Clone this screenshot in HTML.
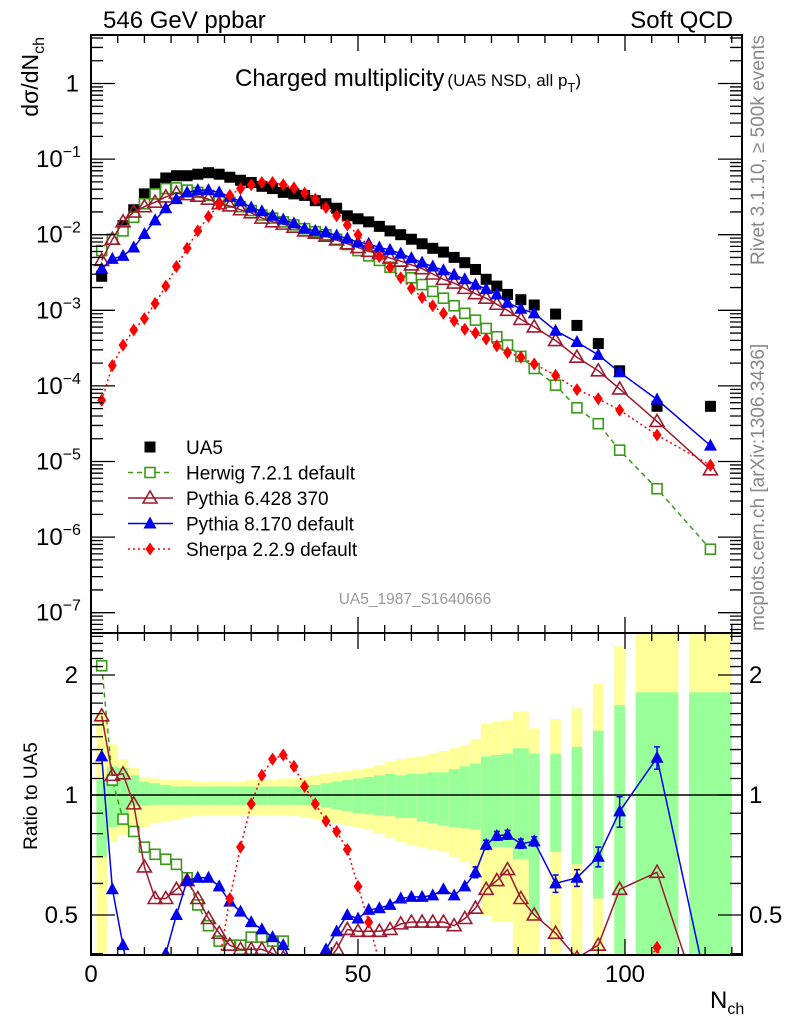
<!DOCTYPE html>
<html><head><meta charset="utf-8"><style>
html,body{margin:0;padding:0;background:#fff;overflow:hidden;width:786px;height:1024px}
svg{display:block;font-family:"Liberation Sans",Arial,sans-serif}
</style></head><body>
<svg id="chart" width="786" height="1024" viewBox="0 0 786 1024" xmlns="http://www.w3.org/2000/svg">
<defs>
<clipPath id="clipU"><rect x="91" y="35" width="651" height="598"/></clipPath>
<clipPath id="clipL"><rect x="91" y="633" width="651" height="322"/></clipPath>
</defs>
<g id="bands" clip-path="url(#clipL)"></g>
<line x1="91" y1="795" x2="742" y2="795" stroke="#000" stroke-width="1.5"/>
<g id="upper" clip-path="url(#clipU)"></g>
<g id="lower" clip-path="url(#clipL)"></g>
<g id="axes"></g>
<rect x="91" y="35" width="651" height="598" fill="none" stroke="#000" stroke-width="2"/>
<rect x="91" y="633" width="651" height="322" fill="none" stroke="#000" stroke-width="2"/>
<text x="103" y="28" font-size="24">546 GeV ppbar</text>
<text x="733" y="28" font-size="24" text-anchor="end">Soft QCD</text>
<text x="235" y="86" font-size="24">Charged multiplicity<tspan font-size="17" dx="3">(UA5 NSD, all p</tspan><tspan font-size="13" dy="6">T</tspan><tspan font-size="17" dy="-6">)</tspan></text>
<text transform="translate(38,37) rotate(-90)" font-size="23" text-anchor="end">dσ/dN<tspan font-size="16" dy="6">ch</tspan></text>
<text transform="translate(37,796) rotate(-90)" font-size="19" text-anchor="middle">Ratio to UA5</text>
<text x="710" y="1008" font-size="24">N<tspan font-size="16" dy="6">ch</tspan></text>
<text transform="translate(764,265) rotate(-90)" font-size="19" fill="#888">Rivet 3.1.10, ≥ 500k events</text>
<text transform="translate(764,631) rotate(-90)" font-size="19" fill="#888">mcplots.cern.ch [arXiv:1306.3436]</text>
<text x="415" y="604" font-size="15.5" fill="#999" text-anchor="middle">UA5_1987_S1640666</text>
<g id="legend"></g>
</svg>
<script>
const nch = [2,4,6,8,10,12,14,16,18,20,22,24,26,28,30,32,34,36,38,40,42,44,46,48,50,52,54,56,58,60,62,64,66,68,70,72,74,76,78,80.5,83,87,91,95,99,106,116];
const binHalf = [1,1,1,1,1,1,1,1,1,1,1,1,1,1,1,1,1,1,1,1,1,1,1,1,1,1,1,1,1,1,1,1,1,1,1,1,1,1,1,1.5,1,1,1,1,1,4,4];
const ua5Log = [-2.55,-2.06,-1.88,-1.67,-1.46,-1.33,-1.25,-1.22,-1.22,-1.20,-1.18,-1.20,-1.24,-1.28,-1.31,-1.36,-1.39,-1.44,-1.46,-1.48,-1.55,-1.59,-1.65,-1.75,-1.79,-1.83,-1.89,-1.95,-2.00,-2.06,-2.12,-2.18,-2.23,-2.30,-2.37,-2.46,-2.59,-2.68,-2.79,-2.86,-2.93,-3.05,-3.20,-3.44,-3.80,-4.27,-4.27];
const herwigLog = [-2.21,-2.06,-1.95,-1.77,-1.59,-1.46,-1.39,-1.38,-1.41,-1.44,-1.48,-1.53,-1.57,-1.63,-1.68,-1.74,-1.78,-1.83,-1.87,-1.92,-1.96,-2.00,-2.06,-2.13,-2.21,-2.28,-2.34,-2.43,-2.48,-2.57,-2.66,-2.75,-2.84,-2.94,-3.04,-3.13,-3.24,-3.35,-3.46,-3.61,-3.77,-3.99,-4.29,-4.50,-4.85,-5.36,-6.16];
const pythia6Log = [-2.34,-2.06,-1.83,-1.70,-1.63,-1.57,-1.50,-1.45,-1.47,-1.49,-1.53,-1.59,-1.62,-1.67,-1.71,-1.78,-1.83,-1.86,-1.90,-1.95,-1.98,-2.02,-2.07,-2.12,-2.17,-2.22,-2.25,-2.31,-2.35,-2.40,-2.45,-2.52,-2.59,-2.64,-2.71,-2.78,-2.84,-2.92,-3.00,-3.12,-3.22,-3.40,-3.62,-3.80,-4.04,-4.47,-5.11];
const pythia8Log = [-2.45,-2.32,-2.28,-2.17,-1.99,-1.81,-1.65,-1.53,-1.44,-1.41,-1.41,-1.44,-1.50,-1.56,-1.64,-1.69,-1.75,-1.80,-1.85,-1.92,-1.95,-1.97,-2.01,-2.05,-2.10,-2.12,-2.17,-2.20,-2.25,-2.31,-2.37,-2.42,-2.47,-2.53,-2.59,-2.66,-2.72,-2.79,-2.90,-2.98,-3.04,-3.27,-3.42,-3.59,-3.82,-4.18,-4.79];
const sherpaLog = [-4.19,-3.73,-3.46,-3.26,-3.11,-2.91,-2.68,-2.42,-2.18,-1.95,-1.76,-1.60,-1.48,-1.39,-1.34,-1.31,-1.31,-1.34,-1.38,-1.45,-1.53,-1.64,-1.75,-1.87,-2.00,-2.15,-2.29,-2.43,-2.57,-2.71,-2.83,-2.94,-3.04,-3.14,-3.25,-3.30,-3.38,-3.47,-3.56,-3.62,-3.71,-3.86,-4.05,-4.17,-4.32,-4.65,-5.05];
const herwigRatio = [2.11,1.09,0.87,0.81,0.74,0.71,0.69,0.67,0.62,0.53,0.47,0.43,0.42,0.42,0.44,0.44,0.43,0.43,0.33,0.32,0.33,0.33,0.32,0.31,0.3,0.3,0.3,0.3,0.3,0.3,0.3,0.3,0.3,0.3,0.3,0.3,0.3,0.3,0.3,0.3,0.3,0.3,0.3,0.3,0.3,0.3,0.2];
const pythia6Ratio = [1.58,1.12,1.13,0.95,0.66,0.55,0.55,0.58,0.61,0.55,0.49,0.45,0.42,0.41,0.41,0.41,0.40,0.39,0.38,0.37,0.37,0.38,0.41,0.46,0.455,0.455,0.455,0.46,0.475,0.48,0.48,0.48,0.48,0.47,0.49,0.52,0.58,0.61,0.65,0.55,0.50,0.45,0.39,0.42,0.58,0.64,0.25];
const pythia8Ratio = [1.25,0.58,0.42,0.30,0.30,0.33,0.40,0.50,0.61,0.62,0.62,0.59,0.54,0.51,0.48,0.46,0.44,0.42,0.37,0.33,0.33,0.41,0.455,0.50,0.49,0.515,0.52,0.53,0.55,0.555,0.555,0.56,0.58,0.56,0.59,0.64,0.75,0.79,0.795,0.755,0.765,0.60,0.62,0.70,0.91,1.24,0.30];
const pythia8RatioErr = [0,0,0,0,0,0,0,0,0,0,0,0,0,0,0,0,0,0,0,0,0,0,0,0,0,0,0,0,0,0,0,0,0,0,0,0.02,0.02,0.02,0.02,0.02,0.02,0.03,0.03,0.04,0.08,0.08,0];
const sherpaRatio = [0.1,0.2,0.22,0.25,0.25,0.25,0.25,0.25,0.25,0.25,0.26,0.38,0.55,0.74,0.95,1.12,1.23,1.26,1.18,1.05,0.95,0.86,0.81,0.73,0.59,0.48,0.38,0.33,0.3,0.3,0.3,0.3,0.3,0.3,0.3,0.3,0.3,0.3,0.3,0.3,0.3,0.3,0.3,0.3,0.30,0.415,0.17];
const yellowHi = [1.61,1.34,1.23,1.17,1.11,1.10,1.09,1.09,1.09,1.08,1.08,1.08,1.08,1.08,1.09,1.09,1.09,1.10,1.10,1.11,1.12,1.13,1.14,1.15,1.16,1.17,1.19,1.21,1.23,1.24,1.25,1.27,1.29,1.31,1.33,1.38,1.51,1.53,1.54,1.62,1.47,1.55,1.65,1.90,2.36,3,3];
const yellowLo = [0.38,0.765,0.795,0.82,0.83,0.85,0.86,0.87,0.88,0.885,0.89,0.89,0.89,0.89,0.89,0.89,0.89,0.89,0.885,0.88,0.87,0.86,0.85,0.84,0.83,0.82,0.80,0.78,0.765,0.75,0.74,0.73,0.72,0.70,0.68,0.65,0.50,0.48,0.48,0.3,0.3,0.3,0.3,0.3,0.3,0.3,0.3];
const greenHi = [1.09,1.18,1.17,1.12,1.08,1.07,1.06,1.05,1.05,1.05,1.05,1.05,1.05,1.05,1.05,1.05,1.05,1.05,1.05,1.05,1.06,1.07,1.08,1.09,1.10,1.11,1.12,1.13,1.12,1.13,1.13,1.14,1.14,1.16,1.18,1.20,1.25,1.26,1.27,1.31,1.27,1.27,1.32,1.45,1.68,1.81,1.81];
const greenLo = [0.70,0.83,0.90,0.94,0.94,0.945,0.945,0.945,0.945,0.945,0.945,0.945,0.945,0.945,0.945,0.945,0.945,0.945,0.945,0.945,0.94,0.93,0.92,0.91,0.90,0.895,0.89,0.885,0.875,0.875,0.86,0.85,0.84,0.83,0.825,0.82,0.74,0.74,0.74,0.69,0.5,0.72,0.67,0.55,0.3,0.3,0.3];
const xTicks = [0,50,100];
const yDecades = [0,-1,-2,-3,-4,-5,-6,-7];
const ratioTicks = [0.5,1,2];

const NS='http://www.w3.org/2000/svg';
function xS(n){return 91+n*5.34;}
function yU(lg){return 83.5-75.6*lg;}
function yL(r){return 795-120*Math.log2(r);}
function mk(tag,attrs,parent){const e=document.createElementNS(NS,tag);for(const k in attrs)e.setAttribute(k,attrs[k]);parent.appendChild(e);return e;}
const bands=document.getElementById('bands'),upper=document.getElementById('upper'),lower=document.getElementById('lower'),axes=document.getElementById('axes'),legend=document.getElementById('legend');

for(let i=0;i<nch.length;i++){
  const x0=xS(nch[i]-binHalf[i]),x1=xS(nch[i]+binHalf[i]);
  const y=mk('rect',{x:x0,y:yL(yellowHi[i]),width:x1-x0,height:yL(yellowLo[i])-yL(yellowHi[i]),fill:'#ffff99'},bands);
  
  
  const g=mk('rect',{x:x0,y:yL(greenHi[i]),width:x1-x0,height:yL(greenLo[i])-yL(greenHi[i]),fill:'#99ff99'},bands);
  
  
}

function marker(type,x,y,color,parent,s){
  s=s||1;let e;
  if(type==='sq') e=mk('rect',{x:x-5.5*s,y:y-5.5*s,width:11*s,height:11*s,fill:color},parent);
  else if(type==='osq') e=mk('rect',{x:x-5*s,y:y-5*s,width:10*s,height:10*s,fill:'#fff',stroke:color,'stroke-width':1.6},parent);
  else if(type==='otri') e=mk('polygon',{points:`${x},${y-7*s} ${x-7*s},${y+5*s} ${x+7*s},${y+5*s}`,fill:'none',stroke:color,'stroke-width':1.6},parent);
  else if(type==='tri') e=mk('polygon',{points:`${x},${y-7*s} ${x-6.5*s},${y+5*s} ${x+6.5*s},${y+5*s}`,fill:color},parent);
  else e=mk('polygon',{points:`${x},${y-6.5*s} ${x-4.5*s},${y} ${x},${y+6.5*s} ${x+4.5*s},${y}`,fill:color},parent);
  return e;
}
const series=[
  {name:'herwig',color:'#3a9a18',type:'osq',dash:'5,4',up:herwigLog,rat:herwigRatio},
  {name:'pythia6',color:'#9e1a2e',type:'otri',dash:'',up:pythia6Log,rat:pythia6Ratio},
  {name:'pythia8',color:'#0000ee',type:'tri',dash:'',up:pythia8Log,rat:pythia8Ratio},
  {name:'sherpa',color:'#ff0000',type:'dia',dash:'2,3',up:sherpaLog,rat:sherpaRatio}
];
for(let i=0;i<nch.length;i++){
  const m=marker('sq',xS(nch[i]),yU(ua5Log[i]),'#000',upper);
  
  
}
series.forEach(s=>{
  const pu=nch.map((n,i)=>xS(n).toFixed(1)+','+yU(s.up[i]).toFixed(1)).join(' ');
  const lu=mk('polyline',{points:pu,fill:'none',stroke:s.color,'stroke-width':1.5,'stroke-dasharray':s.dash},upper);
  
  
  const pl=nch.map((n,i)=>xS(n).toFixed(1)+','+yL(s.rat[i]).toFixed(1)).join(' ');
  const ll=mk('polyline',{points:pl,fill:'none',stroke:s.color,'stroke-width':1.5,'stroke-dasharray':s.dash},lower);
  
  
  for(let i=0;i<nch.length;i++){
    const m=marker(s.type,xS(nch[i]),yU(s.up[i]),s.color,upper);
    
    
    if(s.name==='pythia8'&&pythia8RatioErr[i]>0){
      const x=xS(nch[i]),y0=yL(s.rat[i]+pythia8RatioErr[i]),y1=yL(s.rat[i]-pythia8RatioErr[i]);
      const eb=mk('path',{d:`M${x},${y0}V${y1}M${x-3},${y0}H${x+3}M${x-3},${y1}H${x+3}`,stroke:s.color,'stroke-width':1.5,fill:'none'},lower);
      
      
    }
    const r=marker(s.type,xS(nch[i]),yL(s.rat[i]),s.color,lower);
    
    
  }
});

let tp='';
for(let n=0;n<=120;n+=5){
  const x=xS(n),L=(n%50===0)?16:8;
  tp+=`M${x},955V${955-L}M${x},633V${633-L}M${x},633V${633+L}M${x},35V${35+L}`;
}
for(let d=1;d>=-8;d--){
  for(let k=1;k<10;k++){
    const lg=d+Math.log10(k);const y=yU(lg);
    if(y<35||y>633)continue;
    const L=(k===1)?24:12;
    tp+=`M91,${y}H${91+L}M742,${y}H${742-L}`;
  }
}
for(let r=0.4;r<=2.5001;r+=0.1){
  const y=yL(r);if(y<633||y>955)continue;
  const maj=[0.5,1,2].some(v=>Math.abs(v-r)<1e-6);
  const L=maj?24:12;
  tp+=`M91,${y}H${91+L}M742,${y}H${742-L}`;
}
const tpath=mk('path',{d:tp,stroke:'#000','stroke-width':1.3,fill:'none'},axes);



xTicks.forEach(v=>{
  const t=mk('text',{x:xS(v),y:982,'font-size':24,'text-anchor':'middle'},axes);
  t.textContent=String(v);
  
  
});
yDecades.forEach(d=>{
  const y=yU(d)+8;
  const t=mk('text',{x:79,y:y,'font-size':24,'text-anchor':'end'},axes);
  
  
  if(d===0){t.textContent='1';}
  else{
    t.setAttribute('x',36);t.setAttribute('text-anchor','start');
    t.textContent='10';
    const sp=mk('tspan',{'font-size':16,dy:-10},t);sp.textContent='−'+(-d);
  }
});
ratioTicks.forEach(v=>{
  const y=yL(v)+8;
  const a=mk('text',{x:78,y:y,'font-size':24,'text-anchor':'end'},axes);
  a.textContent=String(v);
  
  
  const b=mk('text',{x:749,y:y,'font-size':24},axes);
  b.textContent=String(v);
  
  
});

const legItems=[
  {label:'UA5',type:'sq',color:'#000',dash:null},
  {label:'Herwig 7.2.1 default',type:'osq',color:'#3a9a18',dash:'5,4'},
  {label:'Pythia 6.428 370',type:'otri',color:'#9e1a2e',dash:''},
  {label:'Pythia 8.170 default',type:'tri',color:'#0000ee',dash:''},
  {label:'Sherpa 2.2.9 default',type:'dia',color:'#ff0000',dash:'2,3'}
];
legItems.forEach((it,i)=>{
  const y=447+i*25.5;
  const g=mk('g',{},legend);
  
  
  if(it.dash!==null) mk('line',{x1:128,y1:y,x2:173,y2:y,stroke:it.color,'stroke-width':1.5,'stroke-dasharray':it.dash},g);
  marker(it.type,150,y,it.color,g);
  const t=mk('text',{x:186,y:y+7,'font-size':19},g);
  t.textContent=it.label;
});
</script>
</body></html>
